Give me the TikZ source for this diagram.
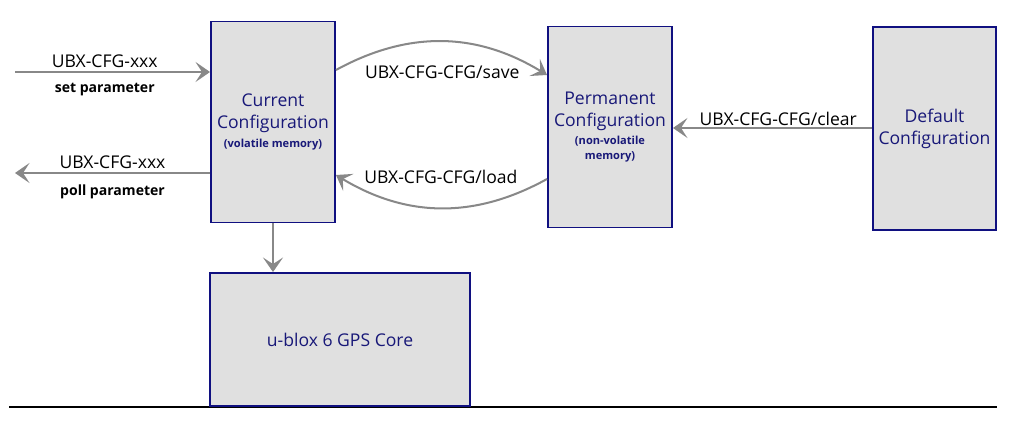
\documentclass[tikz,border=0pt]{standalone}
\usepackage{fontspec}
\setmainfont{Open Sans}
\usetikzlibrary{positioning,arrows.meta}
\definecolor{cfgnavy}{RGB}{16,16,128}
\definecolor{cfgtext}{RGB}{24,24,120}
\definecolor{cfgfill}{RGB}{224,224,224}
\definecolor{arrowgrey}{RGB}{136,136,136}
\newcommand{\memfont}{\bfseries\fontsize{6.3}{8.5}\selectfont}
\tikzset{
  cfgarrow/.style={-{Stealth[length=2.9mm, width=4mm, inset=1.3mm]}, line width=1.15pt, draw=arrowgrey},
  membox/.style={draw=cfgnavy, line width=1.1pt, fill=cfgfill, minimum width=2.48cm, minimum height=4.02cm, align=center, text=cfgtext, font=\fontsize{10}{12.5}\selectfont},
  msglabel/.style={font=\fontsize{10}{12}\selectfont, inner sep=1pt},
  sublabel/.style={font=\bfseries\fontsize{8}{9}\selectfont, inner sep=1pt}
}
\begin{document}
\begin{tikzpicture}[x=0.02cm, y=-0.02cm]
  \useasboundingbox (0,0) rectangle (1036,431);
  \draw[line width=0.8pt] (9,407) -- (997,407);
  \node[membox] (cur) at (273,122) {Current\\Configuration\\[-2pt]\memfont (volatile memory)};
  \node[membox] (perm) at (610,127) {Permanent\\Configuration\\[-2pt]\memfont (non-volatile\\[-4pt]\memfont memory)};
  \node[membox, minimum width=2.46cm, minimum height=4.06cm] (dflt) at (934.5,128.5) {Default\\Configuration};
  \node[membox, minimum width=5.2cm, minimum height=2.66cm] (gps) at (340,339.5) {u-blox 6 GPS Core};
  \coordinate (setsrc) at (15,72);
  \coordinate (polldst) at (15,173);
  \draw[cfgarrow] (setsrc) -- node[msglabel, above=1pt, pos=0.46]{UBX-CFG-xxx} node[sublabel, below=5pt, pos=0.46]{set parameter} (setsrc -| cur.west);
  \draw[cfgarrow] (polldst -| cur.west) -- node[msglabel, above=1pt, pos=0.5]{UBX-CFG-xxx} node[sublabel, below=5pt, pos=0.5]{poll parameter} (polldst);
  \draw[cfgarrow] (cur.east |- 0,70) to[bend left=30] node[msglabel, below=12pt]{UBX-CFG-CFG/save} (perm.west |- 0,75);
  \draw[cfgarrow] (perm.west |- 0,179) to[bend left=30] node[msglabel, above=12pt]{UBX-CFG-CFG/load} (cur.east |- 0,175);
  \draw[cfgarrow] (dflt.west |- 0,128) -- node[msglabel, above, pos=0.47]{UBX-CFG-CFG/clear} (perm.east |- 0,128);
  \draw[cfgarrow] (cur.south) -- (cur.south |- gps.north);
\end{tikzpicture}
\end{document}
